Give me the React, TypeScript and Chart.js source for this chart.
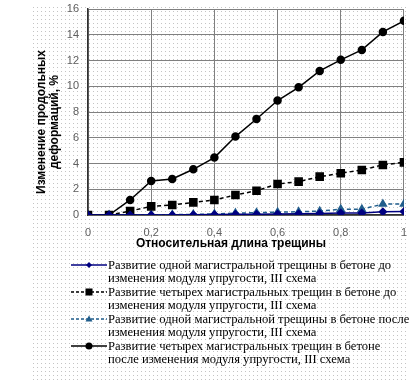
import React, { useEffect, useRef } from "react";
import { Chart, registerables } from "chart.js";

Chart.register(...registerables);

const xValues = [0, 1 / 15, 2 / 15, 3 / 15, 4 / 15, 5 / 15, 6 / 15, 7 / 15, 8 / 15, 9 / 15, 10 / 15, 11 / 15, 12 / 15, 13 / 15, 14 / 15, 1];
const oneBefore = [0, 0, 0, 0, 0, 0.02, 0.03, 0.05, 0.06, 0.08, 0.1, 0.12, 0.15, 0.15, 0.25, 0.27];
const fourBefore = [0, 0, 0.31, 0.67, 0.78, 0.98, 1.17, 1.55, 1.89, 2.41, 2.59, 2.98, 3.24, 3.5, 3.89, 4.09];
const oneAfter = [0, 0, 0, 0.02, 0.02, 0.05, 0.08, 0.15, 0.18, 0.22, 0.25, 0.3, 0.45, 0.45, 0.85, 0.85];
const fourAfter = [0, 0, 1.17, 2.64, 2.8, 3.55, 4.46, 6.09, 7.46, 8.89, 9.92, 11.19, 12.05, 12.82, 14.22, 15.08];

const seriesLabels = [
  ["Развитие одной магистральной трещины в бетоне до", "изменения модуля упругости, III схема"],
  ["Развитие четырех магистральных трещин в бетоне до", "изменения модуля упругости, III схема"],
  ["Развитие одной магистральной трещины в бетоне после", "изменения модуля упругости, III схема"],
  ["Развитие четырех магистральных трещин в бетоне", "после изменения модуля упругости, III схема"],
];
const xTitle = "Относительная длина трещины";
const yTitle = ["Изменение продольных", "деформаций, %"];

const colors = ["#000080", "#000000", "#215e8c", "#000000"];
const dashed = [false, true, true, false];

const toPts = (vals: number[]) => vals.map((y, i) => ({ x: xValues[i], y }));

function LegendIcon({ idx }: { idx: number }) {
  const c = colors[idx];
  let marker: React.ReactNode = null;
  if (idx === 0) marker = <polygon points="18,3 21,6 18,9 15,6" fill={c} />;
  if (idx === 1) marker = <rect x={14.5} y={2.5} width={7} height={7} fill={c} />;
  if (idx === 2) marker = <polygon points="18,2.5 21.5,8.5 14.5,8.5" fill={c} />;
  if (idx === 3) marker = <circle cx={18} cy={6} r={3.5} fill={c} />;
  return (
    <svg width={36} height={12} style={{ display: "block", flex: "0 0 36px", marginTop: 0 }}>
      <line x1={0} y1={6} x2={36} y2={6} stroke={c} strokeWidth={1.5} strokeDasharray={dashed[idx] ? "3,2" : undefined} />
      {marker}
    </svg>
  );
}

export default function App() {
  const ref = useRef<HTMLCanvasElement>(null);
  useEffect(() => {
    document.body.style.margin = "0";
    if (!ref.current) return;
    const chart = new Chart(ref.current, {
      type: "line",
      data: {
        datasets: [
          {
            data: toPts(oneBefore),
            borderColor: colors[0],
            backgroundColor: colors[0],
            borderWidth: 1.5,
            pointStyle: "rectRot",
            pointRadius: 3.5,
          },
          {
            data: toPts(fourBefore),
            borderColor: colors[1],
            backgroundColor: colors[1],
            borderWidth: 1.5,
            borderDash: [4, 3],
            pointStyle: "rect",
            pointRadius: 5,
          },
          {
            data: toPts(oneAfter),
            borderColor: colors[2],
            backgroundColor: colors[2],
            borderWidth: 1.5,
            borderDash: [4, 3],
            pointStyle: "triangle",
            pointRadius: 4,
          },
          {
            data: toPts(fourAfter),
            borderColor: colors[3],
            backgroundColor: colors[3],
            borderWidth: 1.5,
            pointStyle: "circle",
            pointRadius: 3.5,
          },
        ],
      },
      options: {
        animation: false,
        responsive: false,
        layout: { padding: { left: 0, right: 14, top: 9, bottom: 0 } },
        plugins: { legend: { display: false }, tooltip: { enabled: false } },
        scales: {
          x: {
            type: "linear",
            min: 0,
            max: 1,
            afterFit: (s: any) => {
              s.height = 35;
            },
            ticks: {
              stepSize: 0.2,
              padding: 11,
              color: "#606060",
              font: { family: "Arial, 'Liberation Sans'", size: 11 },
              callback: (v: any) => {
                const n = Number(v);
                if (n === 0) return "0";
                if (Math.abs(n - 1) < 1e-9) return "1";
                return n.toFixed(1).replace(".", ",");
              },
            },
            grid: { color: "#808080", drawTicks: false, lineWidth: 1 },
            border: { color: "#303030", width: 1.5 },
          },
          y: {
            min: 0,
            max: 16,
            afterFit: (s: any) => {
              s.width = 88;
            },
            ticks: {
              stepSize: 2,
              padding: 2,
              color: "#606060",
              font: { family: "Arial, 'Liberation Sans'", size: 11 },
            },
            grid: { color: "#808080", drawTicks: true, tickLength: 7, tickColor: "rgba(0,0,0,0)", lineWidth: 1 },
            border: { color: "#303030", width: 1.5 },
          },
        },
      },
    });
    return () => chart.destroy();
  }, []);

  const dots =
    "url(\"data:image/svg+xml,%3Csvg xmlns='http://www.w3.org/2000/svg' width='4' height='4'%3E%3Crect width='1' height='1' fill='%23c4c4c4'/%3E%3C/svg%3E\")";

  return (
    <div style={{ position: "relative", width: 418, height: 383, background: "#fff", overflow: "hidden" }}>
      <div style={{ position: "absolute", left: 33, top: 7, width: 376, height: 374, backgroundImage: dots }} />
      <canvas ref={ref} width={418} height={250} style={{ position: "absolute", left: 0, top: 0, width: 418, height: 250 }} />
      <div
        style={{
          position: "absolute",
          left: 48,
          top: 122,
          transform: "translate(-50%, -50%) rotate(-90deg)",
          fontFamily: "Arial, 'Liberation Sans'",
          fontWeight: "bold",
          fontSize: 12,
          lineHeight: "13px",
          textAlign: "center",
          whiteSpace: "nowrap",
          color: "#000",
        }}
      >
        {yTitle[0]}
        <br />
        {yTitle[1]}
      </div>
      <div
        style={{
          position: "absolute",
          left: 231,
          top: 243,
          transform: "translate(-50%, -50%)",
          fontFamily: "Arial, 'Liberation Sans'",
          fontWeight: "bold",
          fontSize: 12,
          whiteSpace: "nowrap",
          color: "#000",
        }}
      >
        {xTitle}
      </div>
      <div style={{ position: "absolute", left: 71, top: 259 }}>
        {seriesLabels.map((lines, i) => (
          <div key={i} style={{ display: "flex", alignItems: "flex-start", marginBottom: 2 }}>
            <LegendIcon idx={i} />
            <div
              style={{
                fontFamily: "'Liberation Serif', 'Times New Roman', serif",
                fontSize: 12.6,
                lineHeight: "12.5px",
                whiteSpace: "nowrap",
                color: "#000",
                marginLeft: 1,
              }}
            >
              {lines[0]}
              <br />
              {lines[1]}
            </div>
          </div>
        ))}
      </div>
    </div>
  );
}
